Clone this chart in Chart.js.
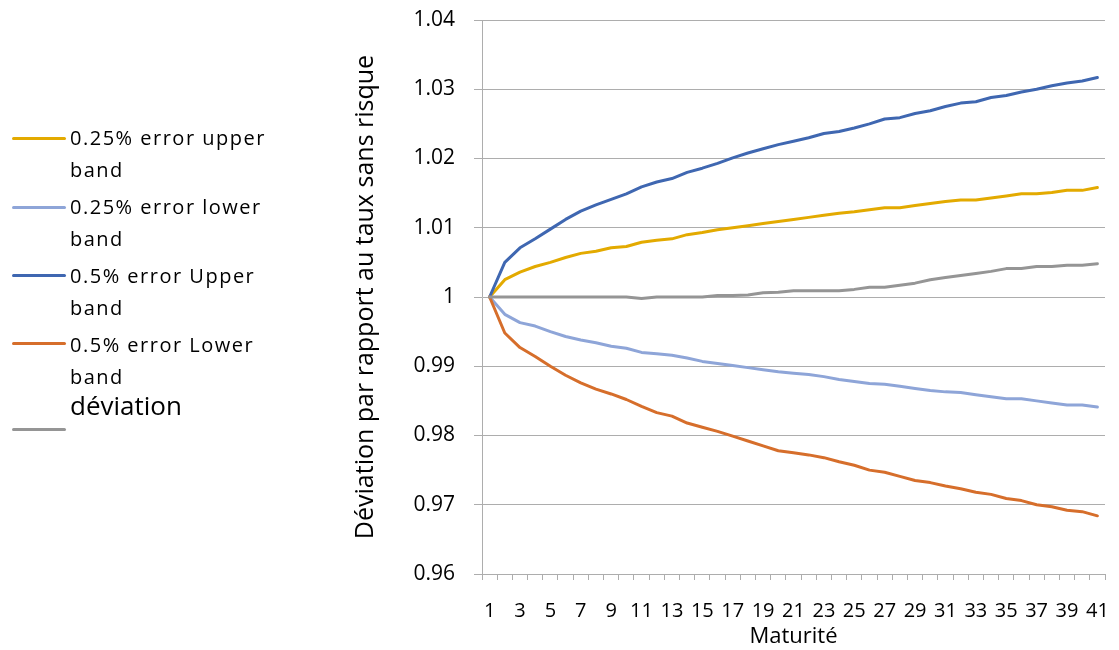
<!DOCTYPE html>
<html>
<head>
<meta charset="utf-8">
<script src="https://cdn.jsdelivr.net/npm/chart.js@4.4.1/dist/chart.umd.min.js"></script>
<style>
  html, body { margin: 0; padding: 0; background: #fff; }
  #wrap { position: relative; width: 1119px; height: 650px; overflow: hidden; }
  #devChart { position: absolute; left: 0; top: 0; }
  .leg-text { position: absolute; left: 70px; font-family: "Open Sans", sans-serif; font-size: 20px; letter-spacing: 1.5px; line-height: 32px; color: #000; white-space: nowrap; }
  .leg-line { position: absolute; left: 12px; width: 54px; height: 3px; border-radius: 2px; }
</style>
</head>
<body>
<div id="wrap">
  <canvas id="devChart" width="1119" height="650"></canvas>
  <div id="legend"></div>
</div>
<script>
const maturities = [1, 2, 3, 4, 5, 6, 7, 8, 9, 10, 11, 12, 13, 14, 15, 16, 17, 18, 19, 20,
  21, 22, 23, 24, 25, 26, 27, 28, 29, 30, 31, 32, 33, 34, 35, 36, 37, 38, 39, 40, 41];

const seriesNames = [
  "0.25% error upper band",
  "0.25% error lower band",
  "0.5% error Upper band",
  "0.5% error Lower band",
  "déviation",
];
const seriesColors = ["#e3aa00", "#8ea5d8", "#3f67b1", "#d66e2b", "#959595"];

const upper025 = [1.0000, 1.0025, 1.0036, 1.0044, 1.0050, 1.0057, 1.0063, 1.0066, 1.0071, 1.0073,
  1.0079, 1.0082, 1.0084, 1.0090, 1.0093, 1.0097, 1.0100, 1.0103, 1.0106, 1.0109,
  1.0112, 1.0115, 1.0118, 1.0121, 1.0123, 1.0126, 1.0129, 1.0129, 1.0132, 1.0135,
  1.0138, 1.0140, 1.0140, 1.0143, 1.0146, 1.0149, 1.0149, 1.0151, 1.0154, 1.0154, 1.0158];
const lower025 = [1.0000, 0.9975, 0.9963, 0.9958, 0.9950, 0.9943, 0.9938, 0.9934, 0.9929, 0.9926,
  0.9920, 0.9918, 0.9916, 0.9912, 0.9907, 0.9904, 0.9901, 0.9898, 0.9895, 0.9892,
  0.9890, 0.9888, 0.9885, 0.9881, 0.9878, 0.9875, 0.9874, 0.9871, 0.9868, 0.9865,
  0.9863, 0.9862, 0.9859, 0.9856, 0.9853, 0.9853, 0.9850, 0.9847, 0.9844, 0.9844, 0.9841];
const upper05 = [1.0000, 1.0050, 1.0071, 1.0084, 1.0098, 1.0112, 1.0124, 1.0133, 1.0141, 1.0149,
  1.0159, 1.0166, 1.0171, 1.0180, 1.0186, 1.0193, 1.0201, 1.0208, 1.0214, 1.0220,
  1.0225, 1.0230, 1.0236, 1.0239, 1.0244, 1.0250, 1.0257, 1.0259, 1.0265, 1.0269,
  1.0275, 1.0280, 1.0282, 1.0288, 1.0291, 1.0296, 1.0300, 1.0305, 1.0309, 1.0312, 1.0317];
const lower05 = [1.0000, 0.9948, 0.9927, 0.9914, 0.9900, 0.9887, 0.9876, 0.9867, 0.9860, 0.9852,
  0.9842, 0.9833, 0.9828, 0.9818, 0.9812, 0.9806, 0.9799, 0.9792, 0.9785, 0.9778,
  0.9775, 0.9772, 0.9768, 0.9762, 0.9757, 0.9750, 0.9747, 0.9741, 0.9735, 0.9732,
  0.9727, 0.9723, 0.9718, 0.9715, 0.9709, 0.9706, 0.9700, 0.9697, 0.9692, 0.9690, 0.9684];
const deviation = [1.0000, 1.0000, 1.0000, 1.0000, 1.0000, 1.0000, 1.0000, 1.0000, 1.0000, 1.0000,
  0.9998, 1.0000, 1.0000, 1.0000, 1.0000, 1.0002, 1.0002, 1.0003, 1.0006, 1.0007,
  1.0009, 1.0009, 1.0009, 1.0009, 1.0011, 1.0014, 1.0014, 1.0017, 1.0020, 1.0025,
  1.0028, 1.0031, 1.0034, 1.0037, 1.0041, 1.0041, 1.0044, 1.0044, 1.0046, 1.0046, 1.0048];

const allSeries = [upper025, lower025, upper05, lower05, deviation];

const yTitle = "Déviation par rapport au taux sans risque";
const xTitle = "Maturité";

const fontFamily = '"Open Sans", sans-serif';
const gridColor = "#adadad";

// legend on the left, built from the same names/colours
const legend = document.getElementById("legend");
const textTops = [122, 191, 260, 329, 389];
const lineTops = [137, 206, 274, 342, 428];
seriesNames.forEach((name, i) => {
  const text = document.createElement("div");
  text.className = "leg-text";
  text.style.top = textTops[i] + "px";
  if (name.endsWith(" band")) {
    text.innerHTML = name.replace(" band", "") + "<br>band";
  } else {
    text.textContent = name;
    text.style.fontSize = "26px";
    text.style.letterSpacing = "0px";
  }
  legend.appendChild(text);

  const line = document.createElement("div");
  line.className = "leg-line";
  line.style.top = lineTops[i] + "px";
  line.style.background = seriesColors[i];
  legend.appendChild(line);
});

const ctx = document.getElementById("devChart").getContext("2d");

new Chart(ctx, {
  type: "line",
  data: {
    labels: maturities,
    datasets: allSeries.map((values, i) => ({
      label: seriesNames[i],
      data: values,
      borderColor: seriesColors[i],
      backgroundColor: seriesColors[i],
      order: i === 4 ? 0 : 5 - i,
    })),
  },
  options: {
    responsive: false,
    animation: false,
    layout: {
      padding: { left: 340, right: 14, top: 20, bottom: 0 },
    },
    elements: {
      point: { radius: 0, hoverRadius: 0 },
      line: {
        borderWidth: 3,
        tension: 0,
        borderCapStyle: "round",
        borderJoinStyle: "round",
      },
    },
    plugins: {
      legend: { display: false },
      tooltip: { enabled: false },
    },
    scales: {
      x: {
        offset: true,
        grid: {
          offset: true,
          drawOnChartArea: false,
          color: gridColor,
          tickColor: gridColor,
          tickLength: 6,
        },
        border: { color: gridColor, width: 1 },
        ticks: {
          autoSkip: false,
          maxRotation: 0,
          padding: 19,
          color: "#000",
          font: { family: fontFamily, size: 20 },
          callback: (value, index) => (index % 2 === 0 ? String(maturities[index]) : ""),
        },
        title: {
          display: true,
          text: xTitle,
          color: "#000",
          font: { family: fontFamily, size: 22 },
          padding: { top: 0, bottom: 0 },
        },
        afterFit: (scale) => {
          scale.height = 76;
          scale.paddingLeft = 0;
          scale.paddingRight = 0;
        },
      },
      y: {
        min: 0.96,
        max: 1.04,
        grid: {
          color: gridColor,
          tickColor: gridColor,
          tickLength: 8,
        },
        border: { color: gridColor, width: 1 },
        ticks: {
          stepSize: 0.01,
          padding: 19,
          color: "#000",
          font: { family: fontFamily, size: 21 },
          callback: (value) => String(+value.toFixed(2)),
        },
        title: {
          display: true,
          text: yTitle,
          color: "#000",
          font: { family: fontFamily, size: 25 },
          padding: { top: 11, bottom: 0 },
        },
        afterFit: (scale) => {
          scale.width = 142;
          // keep the label overflow from pushing the plot down
          scale.paddingTop = 10;
          scale.paddingBottom = 10;
        },
      },
    },
  },
});
</script>
</body>
</html>
